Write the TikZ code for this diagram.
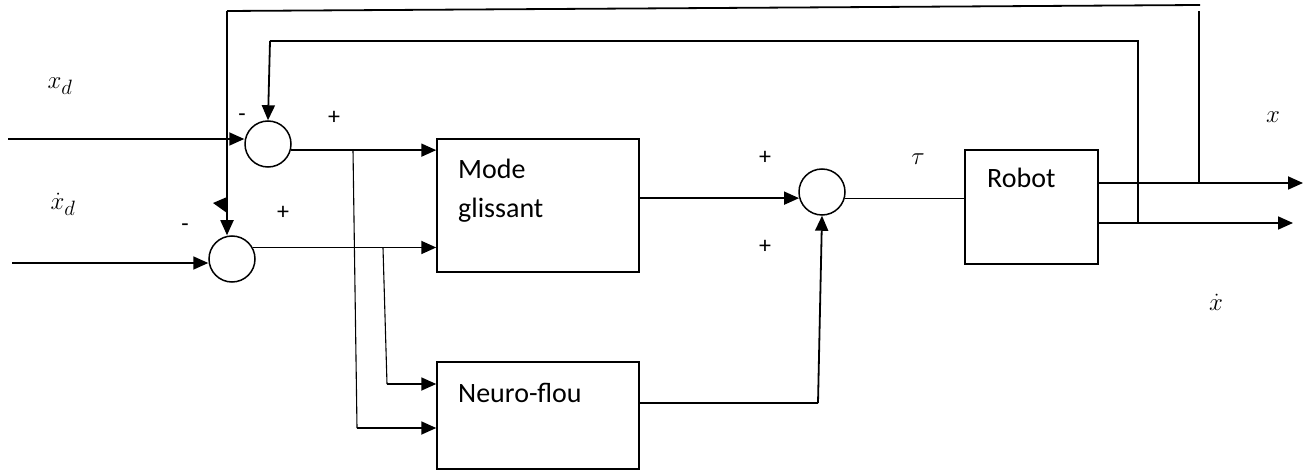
\documentclass[tikz,border=0pt]{standalone}
\usepackage{fontspec}
\setmainfont{Carlito}
\usetikzlibrary{arrows.meta,calc}
\begin{document}
\begin{tikzpicture}[x=1pt,y=-1pt,
  sumnode/.style={circle,draw,line width=1.5pt,minimum size=46pt,inner sep=0pt},
  blockbox/.style={draw,line width=1.5pt,inner sep=0pt},
  arr/.style={line width=1.8pt,-{Triangle[length=15pt,width=13pt]}},
  thickline/.style={line width=1.8pt},
  thinline/.style={line width=1.1pt},
  lbl/.style={font=\fontsize{28}{34}\selectfont,inner sep=0pt},
  sgn/.style={font=\fontsize{24}{28}\selectfont,inner sep=0pt},
  mlbl/.style={font=\fontsize{32}{38}\selectfont,inner sep=0pt}]
\useasboundingbox (0,0) rectangle (1313,470);
% summing junctions
\node[sumnode] (s1) at (268,144) {};
\node[sumnode] (s2) at (232,259) {};
\node[sumnode] (s3) at (822,192) {};
% blocks
\node[blockbox,minimum width=202pt,minimum height=133pt] (mg) at (538,205.5) {};
\node[blockbox,minimum width=202pt,minimum height=107pt] (nf) at (538,415.5) {};
\node[blockbox,minimum width=133pt,minimum height=114pt] (rb) at (1031.5,207) {};
% block texts
\node[lbl,anchor=base west] (mgt1) at (458,179) {Mode};
\node[lbl,anchor=base west] (mgt2) at (458,218) {glissant};
\node[lbl,anchor=base west] (nft) at (458,402) {Neuro-flou};
\node[lbl,anchor=base west] (rbt) at (987,188) {Robot};
% signal labels
\node[mlbl] (lxd) at (60,86) {$x_d$};
\node[mlbl] (lxdd) at (63,204) {$\dot{x}_d$};
\node[mlbl] (ltau) at (918,159) {$\tau$};
\node[mlbl] (lx) at (1273,117) {$x$};
\node[mlbl] (lxdot) at (1216,302) {$\dot{x}$};
% signs
\node[sgn] (m1) at (242,118) {-};
\node[sgn] (p1) at (334,118) {+};
\node[sgn] (m2) at (185,228) {-};
\node[sgn] (p2) at (283,213) {+};
\node[sgn] (p3) at (765,158) {+};
\node[sgn] (p4) at (765,247) {+};
% coordinates
\coordinate (in1) at (8,139);
\coordinate (in2) at (12,263);
\coordinate (b1t) at (353,150);
\coordinate (b1b) at (357,428);
\coordinate (b2t) at (383,248);
\coordinate (b2b) at (387,384);
\coordinate (nfo) at (639,403);
\coordinate (nfc) at (818,403);
\coordinate (ro1) at (1098,183);
\coordinate (ro2) at (1098,223);
\coordinate (end1) at (1303,183);
\coordinate (end2) at (1293,223);
\coordinate (j1) at (1199,183);
\coordinate (j1t) at (1199,11);
\coordinate (j2) at (1138,223);
\coordinate (j2t) at (1138,41);
\coordinate (fo1) at (1200,5);
\coordinate (fo2) at (227,11);
\coordinate (fi2) at (270,41);
% inputs
\draw[arr] (in1) -- (in1 -| s1.west);
\draw[arr] (in2) -- (in2 -| s2.west);
% sum outputs to Mode glissant
\draw[arr] (s1.-15) -- (s1.-15 -| mg.west);
\draw[arr] (s2.29) -- (s2.29 -| mg.west);
% branches to Neuro-flou
\draw[thinline] (b1t) -- (b1b);
\draw[arr] (b1b) -- (b1b -| nf.west);
\draw[thinline] (b2t) -- (b2b);
\draw[arr] (b2b) -- (b2b -| nf.west);
% Mode glissant to sum 3
\draw[arr] (s3.195 -| mg.east) -- (s3.195);
% Neuro-flou to sum 3
\draw[thinline] (nfo) -- (nfc);
\draw[arr] (nfc) -- (s3.south);
% sum 3 to robot
\draw[thinline] (s3.-15) -- (s3.-15 -| rb.west);
% robot outputs
\draw[arr] (ro1) -- (end1);
\draw[arr] (ro2) -- (end2);
% inner feedback (xdot)
\draw[thinline] (j2) -- (j2t) -- (fi2);
\draw[arr] (fi2) -- (s1.north);
% outer feedback (x)
\draw[thinline] (j1) -- (j1t);
\draw[thickline] (fo1) -- (fo2);
\draw[arr] (fo2) -- (fo2 |- s2.north);
% small stray arrowhead
\fill (227,197) -- (213,203) -- (227,213) -- cycle;
\end{tikzpicture}
\end{document}
